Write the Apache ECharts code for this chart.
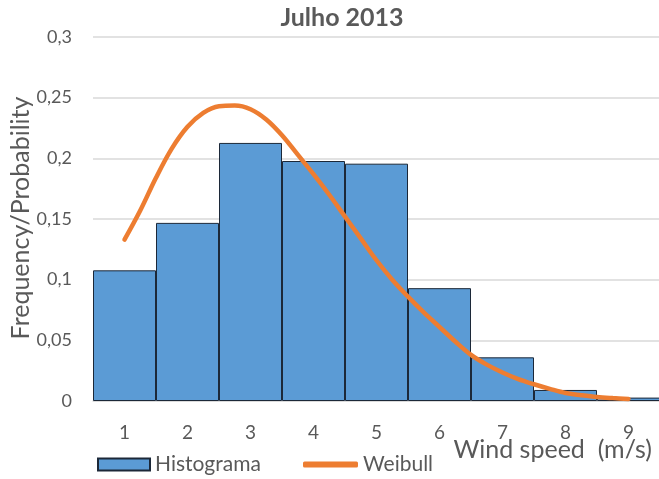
<!DOCTYPE html>
<html>
<head>
<meta charset="utf-8">
<script src="https://cdn.jsdelivr.net/npm/echarts@6/dist/echarts.min.js"></script>
<style>
html,body{margin:0;padding:0;background:#fff;}
#chart{width:659px;height:479px;}
</style>
</head>
<body>
<div id="chart"></div>
<script>
// Data
const categories = ['1','2','3','4','5','6','7','8','9'];
const histogram = [0.1077, 0.1468, 0.2127, 0.1978, 0.1956, 0.0930, 0.0360, 0.0091, 0.0028];
const weibullX = [1.0, 1.25, 1.5, 1.75, 2.0, 2.25, 2.5, 2.75, 3.0, 3.25, 3.5, 3.75, 4.0, 4.25, 4.5, 4.75, 5.0, 5.25, 5.5, 5.75, 6.0, 6.25, 6.5, 6.75, 7.0, 7.25, 7.5, 7.75, 8.0, 8.25, 8.5, 8.75, 9.0];
const weibullY = [0.133, 0.157, 0.184, 0.208, 0.226, 0.2375, 0.243, 0.2435, 0.2405, 0.232, 0.219, 0.203, 0.187, 0.170, 0.152, 0.134, 0.116, 0.100, 0.086, 0.073, 0.061, 0.049, 0.038, 0.030, 0.0235, 0.018, 0.0138, 0.010, 0.0066, 0.0048, 0.0033, 0.0024, 0.0017];
const yTickLabels = {'0':'0','0.05':'0,05','0.1':'0,1','0.15':'0,15','0.2':'0,2','0.25':'0,25','0.3':'0,3'};
const yAxisTitle = 'Frequency/Probability';
const xAxisTitle = 'Wind speed  (m/s)';

const FONT = 'Lato, "Open Sans", sans-serif';
const TXT = '#595959';
const chart = echarts.init(document.getElementById('chart'));
chart.setOption({
  animation: false,
  textStyle: {fontFamily: FONT},
  title: {
    text: 'Julho 2013', left: 342, top: 5, textAlign: 'center', padding: 0,
    textStyle: {fontFamily: FONT, fontSize: 25, fontWeight: 'bold', color: TXT}
  },
  grid: {left: 93, top: 37, width: 567, height: 364, containLabel: false, outerBoundsMode: 'none'},
  legend: [
    {data: [{name: 'Histograma', icon: 'rect'}], left: 97, top: 454, padding: 0, itemWidth: 52, itemHeight: 12,
     textStyle: {fontFamily: FONT, fontSize: 21, color: TXT}},
    {data: [{name: 'Weibull', icon: 'roundRect'}], left: 303, top: 454, padding: 0, itemWidth: 55, itemHeight: 6,
     textStyle: {fontFamily: FONT, fontSize: 21, color: TXT}}
  ],
  xAxis: [
    {type: 'category', data: categories, boundaryGap: true,
     axisTick: {show: false}, axisLine: {lineStyle: {color: '#d9d9d9', width: 1.5}},
     axisLabel: {color: TXT, fontSize: 19, fontFamily: FONT, margin: 22}},
    {type: 'value', min: 0.5, max: 9.5, show: false}
  ],
  yAxis: {
    type: 'value', min: 0, max: 0.3, interval: 0.05,
    axisLine: {show: false}, axisTick: {show: false},
    axisLabel: {color: TXT, fontSize: 18, fontFamily: FONT, margin: 21,
      formatter: v => yTickLabels[String(+v.toFixed(2))] || String(v).replace('.', ',')},
    splitLine: {lineStyle: {color: '#d9d9d9', width: 1.5}}
  },
  graphic: [
    {type: 'text', x: 21, y: 218, rotation: Math.PI / 2,
     style: {text: yAxisTitle, fontFamily: FONT, fontSize: 25, fill: TXT, align: 'center', verticalAlign: 'middle'}},
    {type: 'text', right: 7, top: 437,
     style: {text: xAxisTitle, fontFamily: FONT, fontSize: 25, fill: TXT}}
  ],
  series: [
    {name: 'Histograma', type: 'bar', data: histogram, barCategoryGap: '0%',
     itemStyle: {color: '#5b9bd5', borderColor: '#1c2838', borderWidth: 1}},
    {name: 'Weibull', type: 'line', xAxisIndex: 1, smooth: 0.35, symbol: 'none', z: 5,
     data: weibullX.map((x, i) => [x, weibullY[i]]),
     itemStyle: {color: '#ed7d31'},
     lineStyle: {color: '#ed7d31', width: 4.5, cap: 'round'}}
  ]
});
</script>
</body>
</html>
